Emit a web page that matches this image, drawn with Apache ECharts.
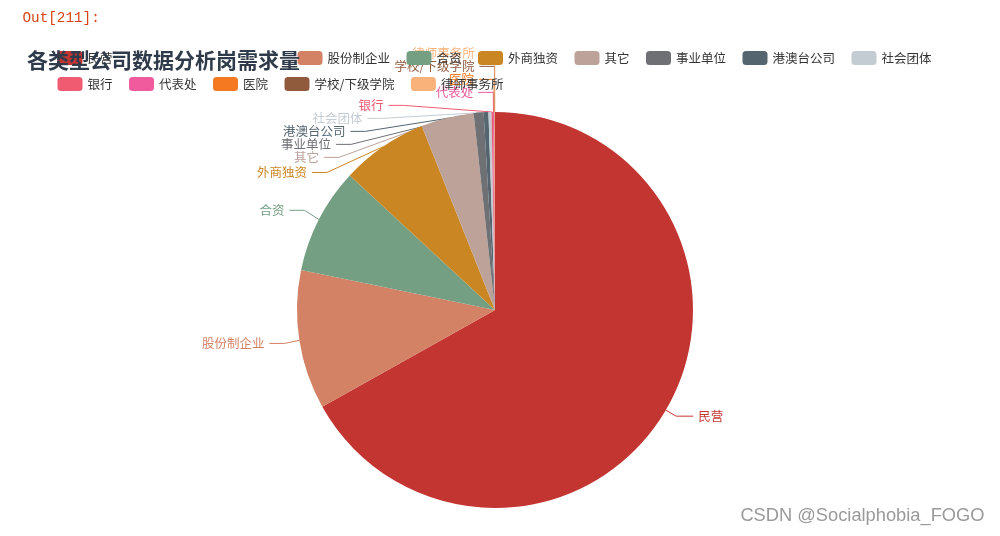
<!DOCTYPE html>
<html>
<head>
<meta charset="utf-8">
<script src="https://cdn.jsdelivr.net/npm/echarts@6/dist/echarts.min.js"></script>
<style>
html,body{margin:0;padding:0;background:#fff;}
#c{width:1000px;height:536px;}
</style>
</head>
<body>
<div id="c"></div>
<script>
const categories = ['民营','股份制企业','合资','外商独资','其它','事业单位','港澳台公司','社会团体','银行','代表处','医院','学校/下级学院','律师事务所'];
const counts = [2408, 409, 312, 255, 155, 29, 14, 9, 4, 3, 1, 1, 1];
const colors = ['#c23531','#d48265','#749f83','#ca8622','#bda29a','#6e7074','#546570','#c4ccd3','#f05b72','#ef5b9c','#f47920','#905a3d','#fab27b'];
const legendRow1a = ['民营'];
const legendRow1b = ['股份制企业','合资','外商独资','其它','事业单位','港澳台公司','社会团体'];
const legendRow2 = ['银行','代表处','医院','学校/下级学院','律师事务所'];

const CX = 495, CY = 310, R = 198;
const LEN = 20, LEN2 = 15, LABEL_H = 13, LABEL_DIST = 5;

const chart = echarts.init(document.getElementById('c'), null, {renderer:'canvas'});
const legendBase = {
  orient:'horizontal', icon:'roundRect', itemWidth:25, itemHeight:14, itemGap:16.5,
  textStyle:{fontSize:12.5, color:'#333', fontFamily:'Noto Sans CJK SC'}, padding:0
};

// classic stacked label layout (spread labels of the left side, then place them on a curve)
const natural = {};
let computed = null;
function computeLayout() {
  const left = [];
  Object.keys(natural).forEach(k => {
    const pts = natural[k];
    if (pts && pts[2][0] < pts[1][0]) {
      left.push({idx:+k, y:pts[1][1], x:pts[2][0]-LABEL_DIST, edge:pts[0]});
    }
  });
  left.sort((a,b)=>a.y-b.y);
  const list = left, n = list.length;
  function shiftUp(end, delta) {
    for (let j = end; j >= 0; j--) {
      list[j].y -= delta;
      if (j > 0 && list[j].y > list[j-1].y + LABEL_H) break;
    }
  }
  function shiftDown(start, end, delta) {
    for (let j = start; j < end; j++) {
      list[j].y += delta;
      if (j > start && j + 1 < end && list[j+1].y > list[j].y + LABEL_H) {
        shiftUp(j, delta/2);
        return;
      }
    }
    shiftUp(end-1, delta/2);
  }
  let lastY = 0;
  for (let i = 0; i < n; i++) {
    const d = list[i].y - lastY;
    if (d < 0) shiftDown(i, n, -d);
    lastY = list[i].y + LABEL_H;
  }
  const D = R + LEN + LEN2;
  const up = list.filter(it => it.y < CY), down = list.filter(it => it.y >= CY);
  function changeX(arr, isDown) {
    let last = isDown ? Number.MAX_VALUE : 0;
    arr.forEach(it => {
      const dy = Math.abs(it.y - CY);
      const dyEdge = Math.abs(it.y - LABEL_H/2 - CY);
      let dx = (isDown ? dy : dyEdge) < R + LEN ? Math.sqrt(D*D - dy*dy) : Math.abs(it.x - CX);
      if (isDown && dx >= last) dx = last - 10;
      if (!isDown && dx <= last) dx = last + 10;
      it.x = CX - dx;
      last = dx;
    });
  }
  changeX(up, false);
  changeX(down, true);
  const res = {};
  list.forEach(it => {
    const p2x = it.x + LABEL_DIST;
    const p1x = p2x + LEN2;
    res[it.idx] = {
      x: it.x, y: it.y, align:'right', verticalAlign:'middle',
      labelLinePoints: [[it.edge[0], it.edge[1]], [p1x, it.y], [p2x, it.y]]
    };
  });
  return res;
}

const option = {
  animation:false,
  color: colors,
  title:{
    text:'各类型公司数据分析岗需求量', left:22, top:44.5,
    textStyle:{fontSize:21, fontWeight:'bold', color:'#2f3b4a', fontFamily:'Noto Sans CJK SC'}
  },
  legend:[
    Object.assign({}, legendBase, {data:legendRow1a, left:57.5, top:51}),
    Object.assign({}, legendBase, {data:legendRow1b, left:297.5, top:51}),
    Object.assign({}, legendBase, {data:legendRow2, left:57.5, top:77})
  ],
  graphic:[
    {type:'text', left:22.5, top:11, style:{text:'Out[211]:', fill:'#d84315', font:'14.3px "Liberation Mono"'}},
    {type:'text', right:15, top:506, style:{text:'CSDN @Socialphobia_FOGO', fill:'#9a9a9a', font:'18.3px "Liberation Sans"', stroke:'#fff', lineWidth:1}}
  ],
  series:[{
    type:'pie',
    center:[CX, CY],
    radius:[0, R],
    startAngle:90,
    clockwise:true,
    avoidLabelOverlap:false,
    label:{show:true, color:'inherit', fontSize:12.5, fontFamily:'Noto Sans CJK SC', alignTo:'none'},
    labelLine:{show:true, length:LEN, length2:LEN2},
    itemStyle:{borderWidth:0},
    labelLayout: function (p) {
      if (!computed) { natural[p.dataIndex] = p.labelLinePoints.map(q=>[q[0],q[1]]); return {}; }
      return computed[p.dataIndex] || {};
    },
    data: categories.map((n,i)=>{
      const item = {name:n, value:counts[i], itemStyle:{color:colors[i]}};
      if (i === 0) item.labelLine = {length:12, length2:17};
      return item;
    })
  }]
};
chart.setOption(option);
computed = computeLayout();
chart.setOption(option, true);
</script>
</body>
</html>
